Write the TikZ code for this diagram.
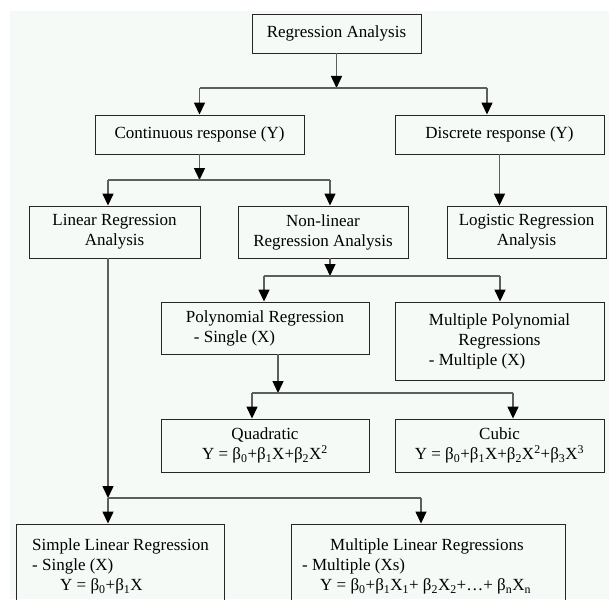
\documentclass[tikz,border=0pt]{standalone}
\usepackage{fontspec}
\setmainfont{Liberation Serif}
\usetikzlibrary{arrows.meta}
\definecolor{bgmint}{HTML}{F5FAF7}
\definecolor{linegray}{HTML}{5E5E5E}
\newcommand\ssb[1]{\textsubscript{#1}}
\newcommand\ssp[1]{\textsuperscript{#1}}
\begin{document}
\begin{tikzpicture}[x=1pt,y=-1pt,
  every node/.style={font=\fontsize{17}{20}\selectfont},
  box/.style={draw=black!85, line width=0.9pt, inner sep=0pt, align=center},
  txt/.style={inner sep=0pt, align=left},
  conn/.style={draw=linegray, line width=1.4pt},
  arr/.style={conn, -{Triangle[width=11pt,length=12pt,color=black]}}]
\useasboundingbox (0,0) rectangle (609,599);
\clip (0,0) rectangle (609,599);
\fill[white] (0,0) rectangle (609,599);
\fill[bgmint] (10,11) rectangle (609,599);

% boxes
\node[box, minimum width=169, minimum height=39] (ra) at (336.5,33.5) {Regression Analysis};
\node[box, minimum width=209, minimum height=39] (cont) at (199.5,134.5) {Continuous response (Y)};
\node[box, minimum width=209, minimum height=39] (disc) at (499.5,134.5) {Discrete response (Y)};
\node[box, minimum width=171, minimum height=52] (lin) at (114.5,232) {Linear Regression\\Analysis};
\node[box, minimum width=170, minimum height=52] (nonlin) at (323,232) {Non-linear\\Regression Analysis};
\node[box, minimum width=159, minimum height=52] (logi) at (526.5,232) {Logistic Regression\\Analysis};
\node[box, align=left, minimum width=208, minimum height=52] (poly) at (265,328) {Polynomial Regression\\\hspace*{8pt}- Single (X)};
\node[box, minimum width=209, minimum height=78] (mpoly) at (499.5,341)
  {\begin{tabular}{@{}l@{}}Multiple Polynomial\\\multicolumn{1}{@{}c@{}}{Regressions}\\- Multiple (X)\end{tabular}};
\node[box, minimum width=208, minimum height=53] (quad) at (265,445.5)
  {Quadratic\\Y = β\ssb{0}+β\ssb{1}X+β\ssb{2}X\ssp{2}};
\node[box, minimum width=209, minimum height=53] (cubic) at (499.5,445.5)
  {Cubic\\Y = β\ssb{0}+β\ssb{1}X+β\ssb{2}X\ssp{2}+β\ssb{3}X\ssp{3}};
\node[box, minimum width=208, minimum height=88] (simple) at (120,568) {};
\node[box, minimum width=274, minimum height=88] (mlin) at (428,568) {};
\node[txt, anchor=north west] (simpletext) at (32,538.5)
  {Simple Linear Regression\\- Single (X)\\\hspace*{28pt}Y = β\ssb{0}+β\ssb{1}X};
\node[txt, anchor=north west] (mlintext) at (302,538.5)
  {\hspace*{28pt}Multiple Linear Regressions\\- Multiple (Xs)\\\hspace*{18pt}Y = β\ssb{0}+β\ssb{1}X\ssb{1}+ β\ssb{2}X\ssb{2}+…+ β\ssb{n}X\ssb{n}};

% junction points
\coordinate (j1) at (336.5,88);  \coordinate (j1l) at (199.5,88); \coordinate (j1r) at (487,88);
\coordinate (j2) at (199.5,180); \coordinate (j2l) at (108,180);  \coordinate (j2r) at (330,180);
\coordinate (j3) at (330,276);   \coordinate (j3l) at (264,276);  \coordinate (j3r) at (500,276);
\coordinate (j4) at (278,393);   \coordinate (j4l) at (252,393);  \coordinate (j4r) at (513,393);
\coordinate (j5) at (108,498);   \coordinate (j5r) at (421,498);

% connectors
\draw[arr] (ra.south) -- (j1);
\draw[conn] (j1l) -- (j1r);
\draw[arr] (j1l) -- (j1l |- cont.north);
\draw[arr] (j1r) -- (j1r |- disc.north);

\draw[arr] (cont.south) -- (j2);
\draw[conn] (j2l) -- (j2r);
\draw[arr] (j2l) -- (j2l |- lin.north);
\draw[arr] (j2r) -- (j2r |- nonlin.north);

\draw[arr] (disc.south) -- (disc.south |- logi.north);

\draw[arr] (j3 |- nonlin.south) -- (j3);
\draw[conn] (j3l) -- (j3r);
\draw[arr] (j3l) -- (j3l |- poly.north);
\draw[arr] (j3r) -- (j3r |- mpoly.north);

\draw[arr] (j4 |- poly.south) -- (j4);
\draw[conn] (j4l) -- (j4r);
\draw[arr] (j4l) -- (j4l |- quad.north);
\draw[arr] (j4r) -- (j4r |- cubic.north);

\draw[arr] (j5 |- lin.south) -- (j5);
\draw[conn] (j5) -- (j5r);
\draw[arr] (j5) -- (j5 |- simple.north);
\draw[arr] (j5r) -- (j5r |- mlin.north);
\end{tikzpicture}
\end{document}
